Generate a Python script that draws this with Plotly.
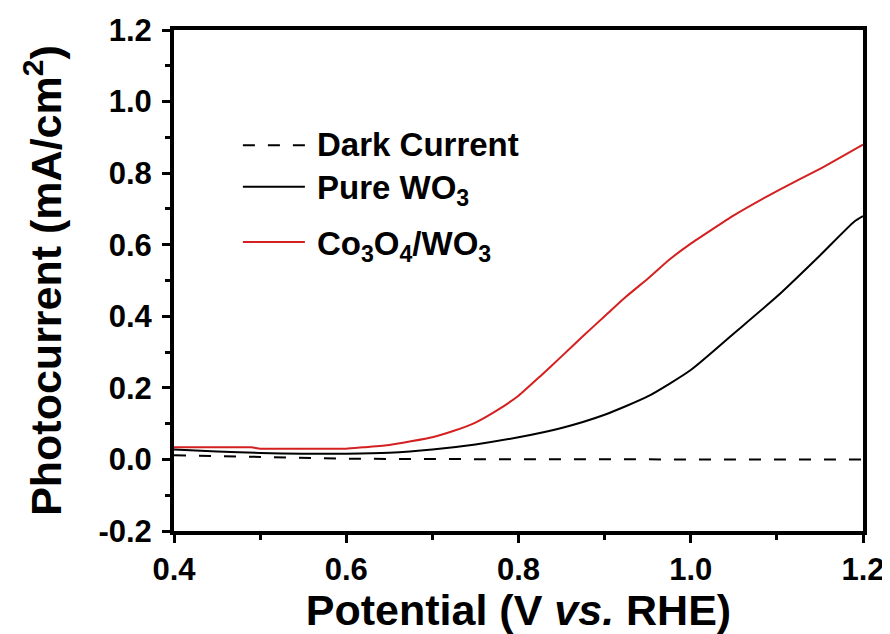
import plotly.graph_objects as go

# ---- data ----
dark_v = [0.40, 0.45, 0.50, 0.55, 0.60, 0.70, 0.80, 0.90, 1.00, 1.10, 1.20]
dark_i = [0.012, 0.009, 0.006, 0.004, 0.002, 0.001, 0.0, 0.0, 0.0, 0.0, 0.0]

wo3_v = [0.40, 0.45, 0.50, 0.55, 0.60, 0.65, 0.70, 0.75, 0.80, 0.85, 0.90,
         0.95, 1.00, 1.05, 1.10, 1.15, 1.19, 1.20]
wo3_i = [0.028, 0.022, 0.018, 0.016, 0.016, 0.019, 0.028, 0.042, 0.062, 0.088,
         0.125, 0.176, 0.250, 0.352, 0.455, 0.570, 0.665, 0.680]

co_v = [0.40, 0.45, 0.49, 0.50, 0.55, 0.60, 0.62, 0.65, 0.70, 0.725, 0.75, 0.775,
        0.80, 0.825, 0.85, 0.875, 0.90, 0.925, 0.95, 0.975, 1.00, 1.05, 1.10,
        1.15, 1.20]
co_i = [0.034, 0.034, 0.034, 0.030, 0.030, 0.030, 0.034, 0.040, 0.062, 0.080,
        0.103, 0.137, 0.178, 0.232, 0.288, 0.345, 0.400, 0.455, 0.505, 0.558,
        0.603, 0.682, 0.750, 0.812, 0.880]

names = ["Dark Current", "Pure WO<sub>3</sub>", "Co<sub>3</sub>O<sub>4</sub>/WO<sub>3</sub>"]
x_ticks = [0.4, 0.6, 0.8, 1.0, 1.2]
y_ticks = [-0.2, 0.0, 0.2, 0.4, 0.6, 0.8, 1.0, 1.2]

RED = "#d42020"
FONT = "Liberation Sans, Arial, sans-serif"

fig = go.Figure()
fig.add_trace(go.Scatter(x=dark_v, y=dark_i, mode="lines", name=names[0],
                         line=dict(color="black", width=2, dash="12px,13px")))
fig.add_trace(go.Scatter(x=wo3_v, y=wo3_i, mode="lines", name=names[1],
                         line=dict(color="black", width=2, shape="spline", smoothing=0.6)))
fig.add_trace(go.Scatter(x=co_v, y=co_i, mode="lines", name=names[2],
                         line=dict(color=RED, width=2, shape="spline", smoothing=0.4)))

# custom legend (line samples + labels)
leg_y = [0.770, 0.687, 0.577]
leg_ty = [0.772, 0.681, 0.569]
leg_styles = [dict(color="black", width=2, dash="12px,13px"),
              dict(color="black", width=2),
              dict(color=RED, width=2)]
for yy, ty, st, nm in zip(leg_y, leg_ty, leg_styles, names):
    fig.add_shape(type="line", xref="paper", yref="paper",
                  x0=0.100, x1=0.190, y0=yy, y1=yy, line=st)
    fig.add_annotation(xref="paper", yref="paper", x=0.205, y=ty,
                       text=nm, showarrow=False, xanchor="left", yanchor="middle",
                       font=dict(family=FONT, size=33, color="black", weight="bold"))

axis_common = dict(
    showline=True, linewidth=4, linecolor="black", mirror=True,
    ticks="outside", ticklen=8, tickwidth=3, tickcolor="black",
    showgrid=False, zeroline=False,
    tickfont=dict(family=FONT, size=31, color="black", weight="bold"),
    minor=dict(ticks="outside", ticklen=5, tickwidth=3, tickcolor="black", showgrid=False),
)

fig.update_xaxes(range=[0.4, 1.2], tickvals=x_ticks, ticktext=[f"{v:.1f}" for v in x_ticks],
                 minor_dtick=0.1, minor_tick0=0.4,
                 title=dict(text="Potential (V <i>vs.</i> RHE)", standoff=7,
                            font=dict(family=FONT, size=43, color="black", weight="bold")),
                 **axis_common)
fig.update_yaxes(range=[-0.2, 1.2], tickvals=y_ticks, ticktext=[f"{v:.1f}" for v in y_ticks],
                 minor_dtick=0.1, minor_tick0=-0.2, ticklabelstandoff=4,
                 title=dict(text="Photocurrent (mA/cm<sup>2</sup>)", standoff=24,
                            font=dict(family=FONT, size=43, color="black", weight="bold")),
                 **axis_common)

# page body has an 8px default margin, so the figure is 8px smaller
fig.update_layout(
    width=882, height=626,
    margin=dict(l=166, r=27, t=22, b=103, autoexpand=False),
    paper_bgcolor="white", plot_bgcolor="white",
    showlegend=False,
    font=dict(family=FONT, color="black"),
)

fig.write_html("out.html")
